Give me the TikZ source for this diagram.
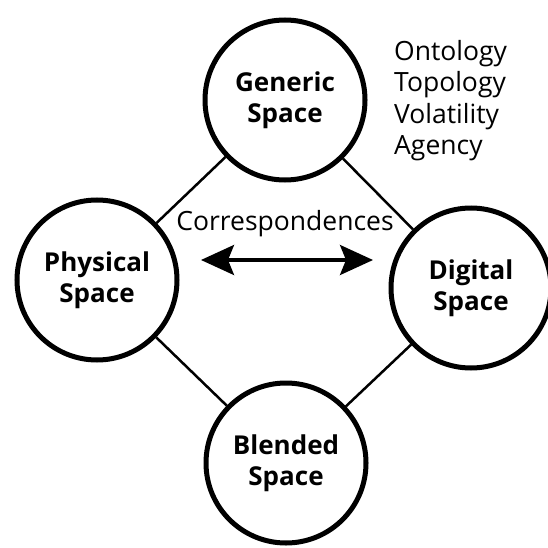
\documentclass[tikz,border=0pt]{standalone}
\usepackage{fontspec}
\setmainfont{Open Sans}
\usetikzlibrary{arrows.meta}

\tikzset{
  spacecirc/.style={circle, draw, line width=5pt, minimum size=160pt, inner sep=0pt,
    align=center, font=\bfseries\fontsize{26}{31.5}\selectfont},
  link/.style={line width=2.5pt},
  corrarrow/.style={{Stealth[length=33pt,width=30pt,inset=6pt]}-{Stealth[length=33pt,width=30pt,inset=6pt]},
    line width=3.3pt},
  plaintext/.style={inner sep=0pt, font=\fontsize{26.5}{31.4}\selectfont}
}

\begin{document}
\begin{tikzpicture}[x=1pt, y=-1pt]

\useasboundingbox (0,0) rectangle (547,548);

% the four spaces
\node[spacecirc] (generic)  at (285,100) {Generic\\Space};
\node[spacecirc] (physical) at (97,280)  {Physical\\Space};
\node[spacecirc] (digital)  at (471,288) {Digital\\Space};
\node[spacecirc] (blended)  at (286,463) {Blended\\Space};

\draw[link] (generic) -- (physical);
\draw[link] (generic) -- (digital);
\draw[link] (physical) -- (blended);
\draw[link] (digital) -- (blended);

% correspondences
\coordinate (corrL) at (201,260);
\coordinate (corrR) at (373,260);
\draw[corrarrow] (corrL) -- (corrR);
\node[plaintext, anchor=base] (corr) at (285,230) {Correspondences};

% aspects of the generic space
\node[plaintext, align=left, anchor=north west] (aspects) at (394,40)
  {Ontology\\Topology\\Volatility\\Agency};

\end{tikzpicture}
\end{document}
